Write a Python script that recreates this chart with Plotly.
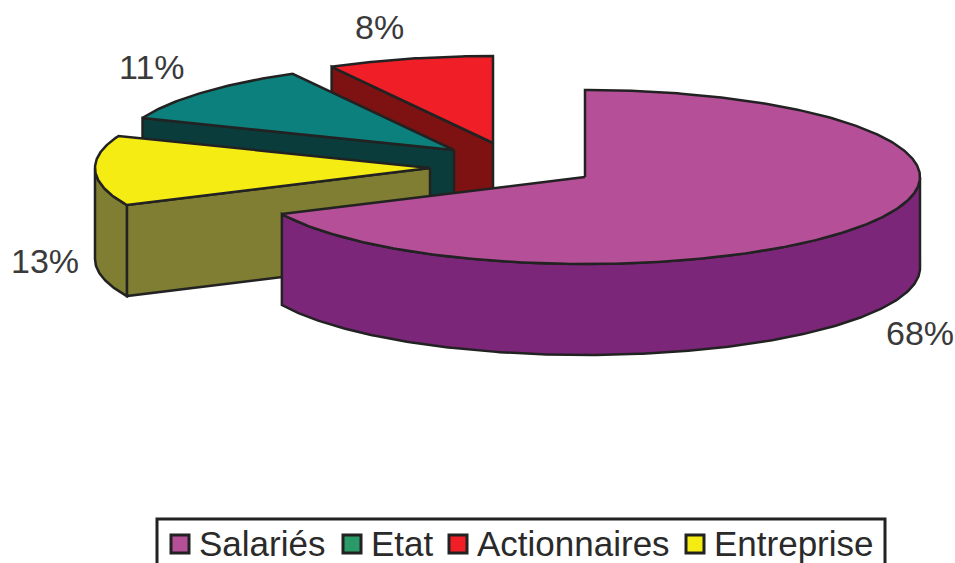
import math
import plotly.graph_objects as go

# Data
categories = ["Salariés", "Etat", "Actionnaires", "Entreprise"]
values = [68, 11, 8, 13]
legend_colors = ["#B54F98", "#2A9A68", "#F01F27", "#F5EC14"]

# Clockwise slice order from 12 o'clock
slice_order = ["Salariés", "Entreprise", "Etat", "Actionnaires"]

# Styling / geometry
top_colors = {"Salariés": "#B54F98", "Etat": "#0C807C", "Actionnaires": "#F01F27", "Entreprise": "#F5EC14"}
side_colors = {"Salariés": "#7C267A", "Etat": "#0A3C3C", "Actionnaires": "#7E1212", "Entreprise": "#807E32"}
apex = {"Salariés": (585, 177), "Etat": (454, 150), "Actionnaires": (493, 143), "Entreprise": (430, 168)}
label_pos = {"Salariés": (920, 333), "Etat": (152, 67), "Actionnaires": (379, 27), "Entreprise": (45, 261)}
legend_swatch_x = [180, 352, 458, 695]
legend_text_x = [197, 369, 475, 712]
legend_y = 544
RX, RY, DEPTH = 335, 87, 91
EDGE = "#222222"


def pt(name, deg, drop=0):
    cx, cy = apex[name]
    a = math.radians(deg)
    return cx + RX * math.sin(a), cy - RY * math.cos(a) + drop


def arc(name, a0, a1, drop=0):
    n = max(2, int(abs(a1 - a0) * 1.5))
    return [pt(name, a0 + (a1 - a0) * i / n, drop) for i in range(n + 1)]


fig = go.Figure()


def poly(points, color):
    xs = [p[0] for p in points] + [points[0][0]]
    ys = [p[1] for p in points] + [points[0][1]]
    fig.add_trace(go.Scatter(x=xs, y=ys, mode="lines", fill="toself", fillcolor=color,
                             line=dict(color=EDGE, width=2.5), showlegend=False, hoverinfo="skip"))


val = dict(zip(categories, values))
spans, start = {}, 0.0
for name in slice_order:
    spans[name] = (start, start + val[name] * 3.6)
    start += val[name] * 3.6

# painter's order: back slices first, main slice last
for name in ["Actionnaires", "Etat", "Entreprise", "Salariés"]:
    a0, a1 = spans[name]
    c = apex[name]
    if name == "Salariés":
        side = arc(name, 90, a1) + arc(name, a1, 90, DEPTH)
        poly(side, side_colors[name])
    else:
        s = pt(name, a0)
        sd = pt(name, a0, DEPTH)
        poly([c, s, sd, (c[0], c[1] + DEPTH)], side_colors[name])
        if a0 < 270:
            poly(arc(name, a0, 270) + arc(name, 270, a0, DEPTH), side_colors[name])
    poly([c] + arc(name, a0, a1), top_colors[name])

# legend swatches
fig.add_trace(go.Scatter(x=legend_swatch_x, y=[legend_y] * len(categories), mode="markers",
                         marker=dict(symbol="square", size=18, color=legend_colors,
                                     line=dict(color=EDGE, width=3)),
                         showlegend=False, hoverinfo="skip"))

annotations = [dict(x=label_pos[n][0], y=label_pos[n][1], text=f"{val[n]}%", showarrow=False,
                    xref="x", yref="y", font=dict(family="Liberation Sans", size=34, color="#3a3a3a"))
               for n in categories]
annotations += [dict(x=tx, y=legend_y - 1, text=n, showarrow=False, xref="x", yref="y",
                     xanchor="left", yanchor="middle",
                     font=dict(family="Liberation Sans", size=35, color="#2a2a2a"))
                for tx, n in zip(legend_text_x, categories)]

legend_box = dict(type="rect", xref="x", yref="y", x0=157, x1=885, y0=519, y1=575,
                  line=dict(color=EDGE, width=3), fillcolor="rgba(0,0,0,0)", layer="below")

fig.update_layout(
    width=955, height=563, margin=dict(l=0, r=0, t=0, b=0),
    paper_bgcolor="white", plot_bgcolor="white", hovermode=False, showlegend=False,
    xaxis=dict(range=[0, 955], visible=False, fixedrange=True),
    yaxis=dict(range=[563, 0], visible=False, fixedrange=True),
    annotations=annotations,
    shapes=[legend_box],
)

fig.write_html("out.html", config={"displayModeBar": False},
               post_script="document.body.style.margin='0';document.body.style.overflow='hidden';")
